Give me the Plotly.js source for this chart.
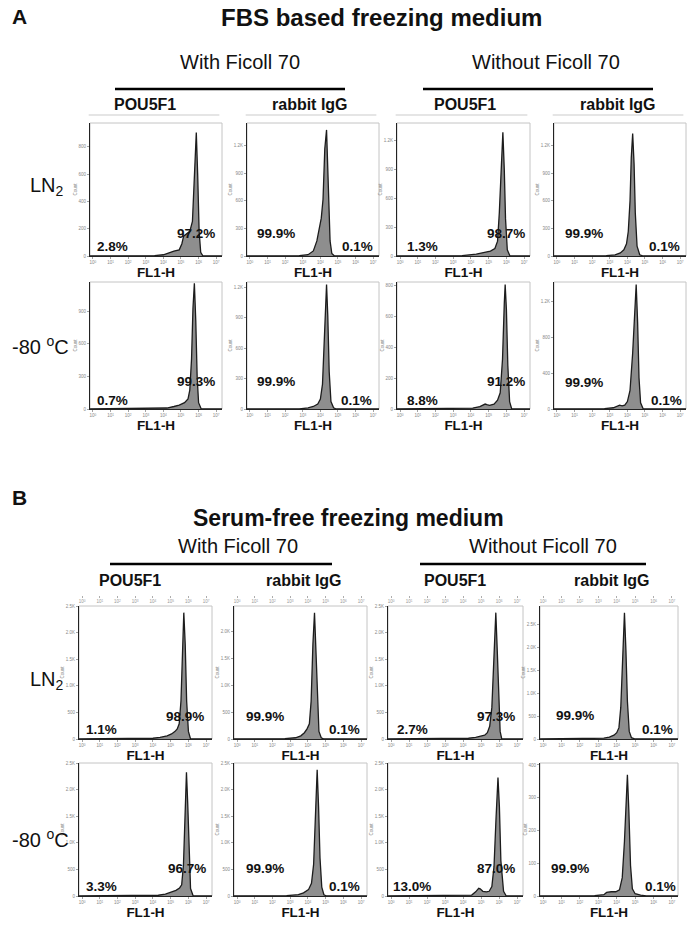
<!DOCTYPE html>
<html><head><meta charset="utf-8">
<script src="https://cdn.plot.ly/plotly-3.0.1.min.js"></script>
<style>html,body{margin:0;padding:0;background:#fff}#chart{width:697px;height:928px}</style>
</head><body><div id="chart"></div>
<script>
// ---- DATA: x = log10(FL1-H), y = Count ----
// Panel A (FBS based), LN2 row
const A_LN2_withFicoll_POU5F1_x = [-0.17,3.5,4.0,4.3,4.6,4.9,5.05,5.15,5.3,5.5,5.65,5.75,5.87,5.95,6.03,6.12,6.25,7.33];
const A_LN2_withFicoll_POU5F1_y = [0,3,9,23,36,45,90,145,163,181,253,543,905,588,181,27,0,0];
const A_LN2_withFicoll_IgG_x = [-0.17,2.8,3.3,3.6,3.8,3.95,4.05,4.15,4.25,4.35,4.45,4.55,4.65,4.8,7.33];
const A_LN2_withFicoll_IgG_y = [0,4,14,55,164,342,411,616,1164,1370,753,164,27,0,0];
const A_LN2_noFicoll_POU5F1_x = [-0.17,3.5,4.3,4.8,5.1,5.35,5.5,5.6,5.7,5.8,5.88,5.95,6.05,6.2,7.33];
const A_LN2_noFicoll_POU5F1_y = [0,4,19,38,51,77,154,449,962,1283,898,385,64,0,0];
const A_LN2_noFicoll_IgG_x = [-0.17,2.8,3.3,3.6,3.8,3.95,4.05,4.15,4.22,4.3,4.38,4.45,4.55,4.7,4.9,7.33];
const A_LN2_noFicoll_IgG_y = [0,4,13,33,67,133,266,599,1064,1330,998,466,106,13,0,0];
// Panel A, -80 °C row
const A_m80_withFicoll_POU5F1_x = [-0.17,3.5,4.2,4.6,4.9,5.2,5.4,5.5,5.6,5.68,5.76,5.84,5.92,6.0,6.15,7.33];
const A_m80_withFicoll_POU5F1_y = [0,2,9,23,35,58,93,174,463,926,1158,811,290,58,0,0];
const A_m80_withFicoll_IgG_x = [-0.17,2.8,3.3,3.6,3.85,4.0,4.12,4.22,4.3,4.35,4.42,4.5,4.6,4.75,4.9,7.33];
const A_m80_withFicoll_IgG_y = [0,2,10,25,49,98,245,613,1041,1225,919,368,74,12,0,0];
const A_m80_noFicoll_POU5F1_x = [-0.17,3.5,4.1,4.5,4.7,4.8,4.9,5.05,5.3,5.5,5.65,5.78,5.88,5.93,6.0,6.08,6.18,6.3,7.33];
const A_m80_noFicoll_POU5F1_y = [0,2,6,16,28,32,28,24,32,57,105,323,687,808,646,283,48,0,0];
const A_m80_noFicoll_IgG_x = [-0.17,2.7,3.2,3.45,3.56,3.7,3.85,4.0,4.15,4.3,4.42,4.5,4.58,4.66,4.75,4.9,7.33];
const A_m80_noFicoll_IgG_y = [0,4,14,35,42,35,42,83,208,623,1176,1384,969,346,69,0,0];
// Panel B (serum-free), LN2 row
const B_LN2_withFicoll_POU5F1_x = [-0.17,3.5,4.0,4.4,4.8,5.05,5.25,5.37,5.48,5.58,5.66,5.74,5.82,5.9,6.0,6.12,7.33];
const B_LN2_withFicoll_POU5F1_y = [0,5,14,29,59,95,143,190,285,713,1663,2375,1781,713,143,0,0];
const B_LN2_withFicoll_IgG_x = [-0.17,2.7,3.3,3.6,3.8,3.95,4.08,4.18,4.28,4.37,4.45,4.53,4.62,4.75,4.9,7.33];
const B_LN2_withFicoll_IgG_y = [0,7,23,59,117,188,281,704,1759,2345,1642,704,141,23,0,0];
const B_LN2_noFicoll_POU5F1_x = [-0.17,3.6,4.3,4.7,5.0,5.2,5.35,5.48,5.6,5.7,5.82,5.9,5.98,6.06,6.15,7.33];
const B_LN2_noFicoll_POU5F1_y = [0,5,14,29,48,71,119,238,594,1425,2375,1663,713,143,0,0];
const B_LN2_noFicoll_IgG_x = [-0.17,2.8,3.3,3.6,3.85,4.0,4.12,4.22,4.32,4.42,4.5,4.58,4.68,4.8,5.0,7.33];
const B_LN2_noFicoll_IgG_y = [0,6,17,41,83,138,248,690,1932,2760,1932,828,166,28,0,0];
// Panel B, -80 °C row
const B_m80_withFicoll_POU5F1_x = [-0.17,3.6,4.3,4.7,5.05,5.3,5.5,5.62,5.72,5.8,5.89,5.96,6.04,6.12,6.27,7.33];
const B_m80_withFicoll_POU5F1_y = [0,5,14,35,70,105,151,209,581,1511,2325,1744,698,140,0,0];
const B_m80_withFicoll_IgG_x = [-0.17,2.8,3.46,3.75,4.03,4.2,4.32,4.42,4.52,4.6,4.68,4.78,4.9,5.05,7.33];
const B_m80_withFicoll_IgG_y = [0,7,24,59,119,238,594,1663,2375,1663,713,166,24,0,0];
const B_m80_noFicoll_POU5F1_x = [-0.17,3.8,4.48,4.7,4.87,4.95,5.1,5.3,5.45,5.6,5.72,5.83,5.94,6.02,6.1,6.25,6.4,7.33];
const B_m80_noFicoll_POU5F1_y = [0,4,18,78,145,134,89,78,89,178,556,1446,2225,1669,668,89,0,0];
const B_m80_noFicoll_IgG_x = [-0.17,2.8,3.3,3.45,3.7,3.95,4.15,4.3,4.42,4.5,4.58,4.66,4.75,4.85,5.0,5.3,5.6,7.33];
const B_m80_noFicoll_IgG_y = [0,1,4,11,13,13,19,56,167,296,370,259,93,22,7,3,0,0];

// gate percentages (left gate, right gate)
const gateLeft  = ["2.8%","99.9%","1.3%","99.9%", "0.7%","99.9%","8.8%","99.9%", "1.1%","99.9%","2.7%","99.9%", "3.3%","99.9%","13.0%","99.9%"];
const gateRight = ["97.2%","0.1%","98.7%","0.1%", "99.3%","0.1%","91.2%","0.1%", "98.9%","0.1%","97.3%","0.1%", "96.7%","0.1%","87.0%","0.1%"];
// y axis ranges (Count) and tick steps
const countMax  = [975,1445,1380,1445, 1170,1250,825,1412, 2500,2470,2500,2907, 2500,2500,2500,406];
const countStep = [200,300,300,300, 300,300,200,400, 500,500,500,500, 500,500,500,100];
const xTickVals = [0,1,2,3,4,5,6,7];
const xTickText = ["10<sup>0</sup>","10<sup>1</sup>","10<sup>2</sup>","10<sup>3</sup>","10<sup>4</sup>","10<sup>5</sup>","10<sup>6</sup>","10<sup>7</sup>"];
const colLabels = ["POU5F1","rabbit IgG","POU5F1","rabbit IgG"];
const groupLabels = ["With Ficoll 70","Without Ficoll 70"];
const rowLabels = ["LN<sub>2</sub>","-80 <sup>o</sup>C"];
const panelTitles = ["FBS based freezing medium","Serum-free freezing medium"];

const series = [
  [A_LN2_withFicoll_POU5F1_x,A_LN2_withFicoll_POU5F1_y],[A_LN2_withFicoll_IgG_x,A_LN2_withFicoll_IgG_y],
  [A_LN2_noFicoll_POU5F1_x,A_LN2_noFicoll_POU5F1_y],[A_LN2_noFicoll_IgG_x,A_LN2_noFicoll_IgG_y],
  [A_m80_withFicoll_POU5F1_x,A_m80_withFicoll_POU5F1_y],[A_m80_withFicoll_IgG_x,A_m80_withFicoll_IgG_y],
  [A_m80_noFicoll_POU5F1_x,A_m80_noFicoll_POU5F1_y],[A_m80_noFicoll_IgG_x,A_m80_noFicoll_IgG_y],
  [B_LN2_withFicoll_POU5F1_x,B_LN2_withFicoll_POU5F1_y],[B_LN2_withFicoll_IgG_x,B_LN2_withFicoll_IgG_y],
  [B_LN2_noFicoll_POU5F1_x,B_LN2_noFicoll_POU5F1_y],[B_LN2_noFicoll_IgG_x,B_LN2_noFicoll_IgG_y],
  [B_m80_withFicoll_POU5F1_x,B_m80_withFicoll_POU5F1_y],[B_m80_withFicoll_IgG_x,B_m80_withFicoll_IgG_y],
  [B_m80_noFicoll_POU5F1_x,B_m80_noFicoll_POU5F1_y],[B_m80_noFicoll_IgG_x,B_m80_noFicoll_IgG_y]
];

// ---- LAYOUT (pixel geometry) ----
const W = 697, H = 928;
const colsA = [[90,222],[247,379],[397,530],[554,686]];
const rowsA = [[123,256],[282,409]];
const colsB = [[79,212],[234,367],[388,523],[540,678]];
const rowsB = [[606,739],[763,896]];
const labelPos = [
  [.17,.075,.80,.17],[.22,.17,.84,.07],[.195,.07,.82,.17],[.23,.17,.84,.07],
  [.17,.07,.80,.22],[.22,.22,.83,.07],[.195,.07,.82,.22],[.23,.21,.85,.07],
  [.17,.07,.80,.17],[.23,.17,.83,.07],[.185,.07,.80,.17],[.25,.18,.85,.07],
  [.17,.07,.81,.21],[.23,.21,.83,.07],[.18,.07,.80,.21],[.22,.21,.87,.07]
];
const FONT = "Liberation Sans, Arial, sans-serif";
const NARROW = "Liberation Sans Narrow, Arial Narrow, Liberation Sans, Arial, sans-serif";
const TINY = 4.5;
const px = v => v / W, py = v => 1 - v / H;

const traces = [], shapes = [], annotations = [];
const layout = {
  width: W, height: H, margin: {l:0, r:0, t:0, b:0},
  paper_bgcolor: "#fff", plot_bgcolor: "#fff", showlegend: false,
  font: {family: FONT, color: "#111"}
};

for (let i = 0; i < 16; i++) {
  const panel = i < 8 ? 0 : 1;
  const row = Math.floor((i % 8) / 4);
  const col = i % 4;
  const cx = (panel ? colsB : colsA)[col];
  const ry = (panel ? rowsB : rowsA)[row];
  const n = i + 1, xs = "x" + n, ys = "y" + n;
  traces.push({
    type: "scatter", mode: "lines", x: series[i][0], y: series[i][1],
    xaxis: xs, yaxis: ys, fill: "tozeroy", fillcolor: "#8e8e8e",
    line: {color: "#1c1c1c", width: 1.3}, hoverinfo: "skip"
  });
  const yt = [], ytt = [];
  for (let v = 0; v <= countMax[i]; v += countStep[i]) { yt.push(v); ytt.push(v >= 1000 ? (v/1000).toFixed(1) + "K" : String(v)); }
  layout["xaxis" + n] = {
    domain: [px(cx[0]), px(cx[1])], anchor: ys, range: [-0.17, 7.33],
    showgrid: false, zeroline: false, showline: true, linecolor: "#222", linewidth: 1,
    ticks: "outside", ticklen: 2, tickwidth: 0.6, tickcolor: "#666",
    tickvals: xTickVals, ticktext: xTickText, tickfont: {size: TINY, color: "#888"},
    title: {text: "<b>FL1-H</b>", font: {size: 13.5, family: FONT, color: "#111"}, standoff: 1},
    fixedrange: true
  };
  layout["yaxis" + n] = {
    domain: [py(ry[1]), py(ry[0])], anchor: xs, range: [0, countMax[i]],
    showgrid: false, zeroline: false, showline: true, linecolor: "#222", linewidth: 1,
    ticks: "outside", ticklen: 2, tickwidth: 0.6, tickcolor: "#666",
    tickvals: yt, ticktext: ytt, tickfont: {size: TINY, color: "#888"},
    title: {text: "Count", font: {size: TINY, color: "#888"}, standoff: 1},
    fixedrange: true
  };
  shapes.push({type: "rect", xref: xs + " domain", yref: ys + " domain", x0: 0, x1: 1, y0: 0, y1: 1,
    line: {color: "#c4c4c4", width: 1}, layer: "below"});
  const lp = labelPos[i];
  annotations.push({xref: xs + " domain", yref: ys + " domain", x: lp[0], y: lp[1], text: "<b>" + gateLeft[i] + "</b>",
    showarrow: false, xanchor: "center", yanchor: "middle", font: {size: 13.5, family: FONT, color: "#111"}});
  annotations.push({xref: xs + " domain", yref: ys + " domain", x: lp[2], y: lp[3], text: "<b>" + gateRight[i] + "</b>",
    showarrow: false, xanchor: "center", yanchor: "middle", font: {size: 13.5, family: FONT, color: "#111"}});
  if (panel === 0 && row === 0) {
    shapes.push({type: "line", xref: xs + " domain", yref: "paper", x0: -0.01, x1: 0.98, y0: py(115), y1: py(115),
      line: {color: "#dcdcdc", width: 1.5}});
  }
  if (panel === 1 && row === 0) {
    const m = 17 + col;
    layout["xaxis" + m] = {
      domain: [px(cx[0]), px(cx[1])], overlaying: xs, anchor: "free", position: py(595), side: "bottom",
      range: [-0.17, 7.33], showgrid: false, zeroline: false, showline: false,
      ticks: "outside", ticklen: 2, tickwidth: 0.6, tickcolor: "#777",
      tickvals: xTickVals, ticktext: xTickText, tickfont: {size: TINY, color: "#999"}, fixedrange: true
    };
    traces.push({type: "scatter", mode: "lines", x: [], y: [], xaxis: "x" + m, yaxis: ys, hoverinfo: "skip"});
  }
}

function addText(x, y, text, size, opts) {
  annotations.push(Object.assign({xref: "paper", yref: "paper", x: px(x), y: py(y), text: text, showarrow: false,
    xanchor: "center", yanchor: "middle", font: {size: size, family: FONT, color: "#111"}}, opts || {}));
}
// Panel A header
addText(10, 17, "<b>A</b>", 21, {xanchor: "left"});
addText(381, 18, "<b>" + panelTitles[0] + "</b>", 24);
addText(240, 62, groupLabels[0], 20);
addText(546, 62, groupLabels[1], 20);
shapes.push({type: "line", xref: "paper", yref: "paper", x0: px(115), x1: px(345), y0: py(89), y1: py(89), line: {color: "#000", width: 2.5}});
shapes.push({type: "line", xref: "paper", yref: "paper", x0: px(423), x1: px(653), y0: py(89), y1: py(89), line: {color: "#000", width: 2.5}});
[145, 310, 465, 618].forEach((x, k) => addText(x, 105, "<b>" + colLabels[k] + "</b>", 16));
addText(28, 187, rowLabels[0], 20, {xanchor: "left"});
addText(10, 346, rowLabels[1], 20, {xanchor: "left"});
// Panel B header
addText(10, 497, "<b>B</b>", 21, {xanchor: "left"});
addText(348, 518, "<b>" + panelTitles[1] + "</b>", 23, {font: {size: 23, family: NARROW, color: "#111"}});
addText(238, 546, groupLabels[0], 20);
addText(543, 546, groupLabels[1], 20);
shapes.push({type: "line", xref: "paper", yref: "paper", x0: px(110), x1: px(332), y0: py(564), y1: py(564), line: {color: "#000", width: 2.5}});
shapes.push({type: "line", xref: "paper", yref: "paper", x0: px(420), x1: px(646), y0: py(564), y1: py(564), line: {color: "#000", width: 2.5}});
[130, 304, 455, 612].forEach((x, k) => addText(x, 580, "<b>" + colLabels[k] + "</b>", 16));
addText(28, 680, rowLabels[0], 20, {xanchor: "left"});
addText(10, 838, rowLabels[1], 20, {xanchor: "left"});

layout.shapes = shapes;
layout.annotations = annotations;
Plotly.newPlot("chart", traces, layout, {displayModeBar: false, staticPlot: true});
</script></body></html>
